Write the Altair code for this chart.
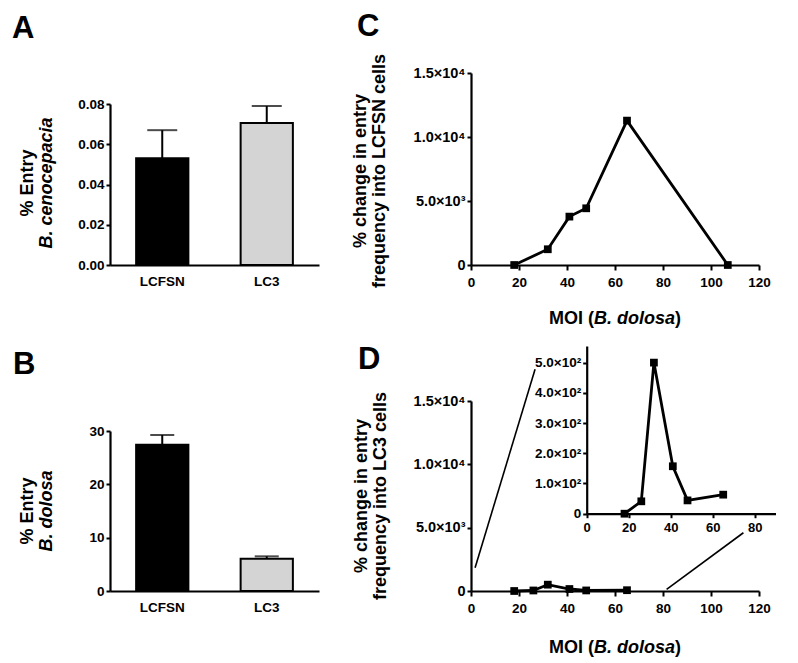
import altair as alt
import pandas as pd

FONT = "Liberation Sans"

# ---------------- data ----------------
groups = ["LCFSN", "LC3"]
bar_colors = ["#000000", "#d4d4d4"]

a_means = [0.053, 0.0705]
a_errs = [0.014, 0.0085]

b_means = [27.4, 6.05]
b_errs = [1.85, 0.45]

c_moi = [18, 32, 41, 48, 65, 107]
c_change = [0, 1230, 3780, 4430, 11280, 0]

d_moi = [18, 26, 32, 41, 48, 65]
d_change = [0, 41, 500, 157, 44, 63]

a_ticks = [0.0, 0.02, 0.04, 0.06, 0.08]
b_ticks = [0, 10, 20, 30]
big_ticks = [0, 5000, 10000, 15000]
big_labels = ["0", "5.0×10³", "1.0×10⁴", "1.5×10⁴"]
inset_ticks = [0, 100, 200, 300, 400, 500]
inset_labels = ["0", "1.0×10²", "2.0×10²", "3.0×10²", "4.0×10²", "5.0×10²"]
moi_ticks = [0, 20, 40, 60, 80, 100, 120]
inset_moi_ticks = [0, 20, 40, 60, 80]

# zoom guide lines of panel D, in panel D's data units
guide_x = [1.7, 81.5]
guide_y = [1840, 134]
guide_x2 = [26.7, 113.5]
guide_y2 = [17500, 4600]


def label_expr(values, labels):
    expr = "''"
    for v, l in reversed(list(zip(values, labels))):
        expr = f"datum.value == {v} ? '{l}' : ({expr})"
    return expr


def text_layer(txt, x, y, size=18, angle=None, italic=False, align="center", baseline="middle"):
    params = dict(text=txt, font=FONT, fontSize=size, fontWeight="bold", color="black",
                  align=align, baseline=baseline)
    if angle is not None:
        params["angle"] = angle
    if italic:
        params["fontStyle"] = "italic"
    return alt.Chart(pd.DataFrame({"k": [0]})).mark_text(**params).encode(
        x=alt.value(x), y=alt.value(y))


def moi_title(y):
    return [
        text_layer("MOI (", 78, y, align="left", baseline="alphabetic"),
        text_layer("B. dolosa", 123, y, italic=True, align="left", baseline="alphabetic"),
        text_layer(")", 204, y, align="left", baseline="alphabetic"),
    ]


def bar_panel(means, errs, ymax, ticks, fmt, h, top, cap, letter, t1, t2, ty, lx, ly):
    df = pd.DataFrame({"group": groups, "mean": means,
                       "hi": [m + e for m, e in zip(means, errs)], "color": bar_colors})
    xs = alt.Scale(paddingInner=0.5, paddingOuter=0.25)
    ys = alt.Scale(domain=[0, ymax], range=[h, top], nice=False)
    xenc = alt.X("group:N", sort=groups, scale=xs,
                 axis=alt.Axis(title=None, ticks=False, labelAngle=0, labelPadding=9))
    base = alt.Chart(df)
    bars = base.mark_bar(stroke="black", strokeWidth=2).encode(
        x=xenc,
        y=alt.Y("mean:Q", scale=ys, axis=alt.Axis(values=ticks, format=fmt, title=None)),
        fill=alt.Color("color:N", scale=None),
    )
    err = base.mark_rule(color="black", strokeWidth=2).encode(
        x=alt.X("group:N", sort=groups), y="mean:Q", y2="hi:Q")
    capm = base.mark_tick(color="black", size=cap, thickness=2).encode(
        x=alt.X("group:N", sort=groups), y="hi:Q")
    return alt.layer(
        bars, err, capm,
        text_layer(t1, -82, ty, angle=270),
        text_layer(t2, -63, ty, angle=270, italic=True),
        text_layer(letter, lx, ly, size=31, align="left", baseline="alphabetic"),
    ).properties(width=209, height=h)


A = bar_panel(a_means, a_errs, 0.08, a_ticks, ".2f", 192, 31, 30, "A",
              "% Entry", "B. cenocepacia", 110, -98, -35)
B = bar_panel(b_means, b_errs, 30, b_ticks, "d", 245, 85, 24, "B",
              "% Entry", "B. dolosa", 165, -97, 28)

# ---------------- panel C ----------------
cdf = pd.DataFrame({"moi": c_moi, "chg": c_change})
cx = alt.X("moi:Q", scale=alt.Scale(domain=[0, 120], nice=False),
           axis=alt.Axis(values=moi_ticks, title=None, tickSize=5, labelPadding=5))
cy = alt.Y("chg:Q", scale=alt.Scale(domain=[0, 15000], nice=False),
           axis=alt.Axis(values=big_ticks, title=None, labelFontSize=14.5,
                         labelExpr=label_expr(big_ticks, big_labels)))
c_line = alt.Chart(cdf).mark_line(color="black", strokeWidth=2.8).encode(x=cx, y=cy)
c_pts = alt.Chart(cdf).mark_point(shape="square", filled=True, size=60, color="black",
                                  opacity=1).encode(x=cx, y=cy)
C = alt.layer(
    c_line, c_pts,
    text_layer("% change in entry", -110, 98, angle=270),
    text_layer("frequency into LCFSN cells", -91, 98, angle=270),
    text_layer("C", -114, -37, size=31, align="left", baseline="alphabetic"),
    *moi_title(251),
).properties(width=288, height=192)

# ---------------- panel D ----------------
ddf = pd.DataFrame({"moi": d_moi, "chg": d_change})
gdf = pd.DataFrame({"x": guide_x, "y": guide_y, "x2": guide_x2, "y2": guide_y2})
dxs = alt.Scale(domain=[0, 120], nice=False)
dys = alt.Scale(domain=[0, 15000], range=[245, 55], nice=False)
dx = alt.X("moi:Q", scale=dxs,
           axis=alt.Axis(values=moi_ticks, title=None, tickSize=5, labelPadding=5, orient="bottom"))
dy = alt.Y("chg:Q", scale=dys,
           axis=alt.Axis(values=big_ticks, title=None, orient="left", labelFontSize=14.5,
                         labelExpr=label_expr(big_ticks, big_labels)))
d_line = alt.Chart(ddf).mark_line(color="black", strokeWidth=2.8).encode(x=dx, y=dy)
d_pts = alt.Chart(ddf).mark_point(shape="square", filled=True, size=60, color="black",
                                  opacity=1).encode(x=dx, y=dy)
d_guides = alt.Chart(gdf).mark_rule(color="black", strokeWidth=1.6).encode(
    x=alt.X("x:Q", scale=dxs), y=alt.Y("y:Q", scale=dys), x2="x2:Q", y2="y2:Q")
d_main = alt.layer(d_line, d_pts, d_guides)

ixs = alt.Scale(domain=[0, 93.6], range=[115.7, 312.3], nice=False)
iys = alt.Scale(domain=[0, 555], range=[167.7, 0], nice=False)
ix = alt.X("moi:Q", scale=ixs,
           axis=alt.Axis(values=inset_moi_ticks, title=None, orient="bottom", offset=-77.3,
                         tickSize=4, labelPadding=4, labelFontSize=13))
iy = alt.Y("chg:Q", scale=iys,
           axis=alt.Axis(values=inset_ticks, title=None, orient="left", offset=-115.7,
                         labelFontSize=13.5, labelExpr=label_expr(inset_ticks, inset_labels)))
i_line = alt.Chart(ddf).mark_line(color="black", strokeWidth=2.8).encode(x=ix, y=iy)
i_pts = alt.Chart(ddf).mark_point(shape="square", filled=True, size=60, color="black",
                                  opacity=1).encode(x=ix, y=iy)
d_inset = alt.layer(i_line, i_pts)

D = alt.layer(
    d_main, d_inset,
    text_layer("% change in entry", -109, 150, angle=270),
    text_layer("frequency into LC3 cells", -90, 150, angle=270),
    text_layer("D", -113, 23, size=31, align="left", baseline="alphabetic"),
    *moi_title(307),
).resolve_scale(x="independent", y="independent").resolve_axis(
    x="independent", y="independent").properties(width=288, height=245)

chart = alt.concat(
    A, C, B, D, columns=2, spacing={"row": 81, "column": 152}
).properties(
    bounds="flush", align="each", padding={"left": 4, "top": 3, "right": 5, "bottom": 0}
).configure_view(stroke=None).configure_axis(
    domainColor="black", domainWidth=2.2, tickColor="black", tickWidth=2, tickSize=4,
    labelColor="black", labelFont=FONT, labelFontWeight="bold", labelFontSize=13.5,
    labelPadding=2, grid=False, labelFlush=False, labelOverlap=False,
)

chart.save("out.html", embed_options={"renderer": "svg", "actions": False})
